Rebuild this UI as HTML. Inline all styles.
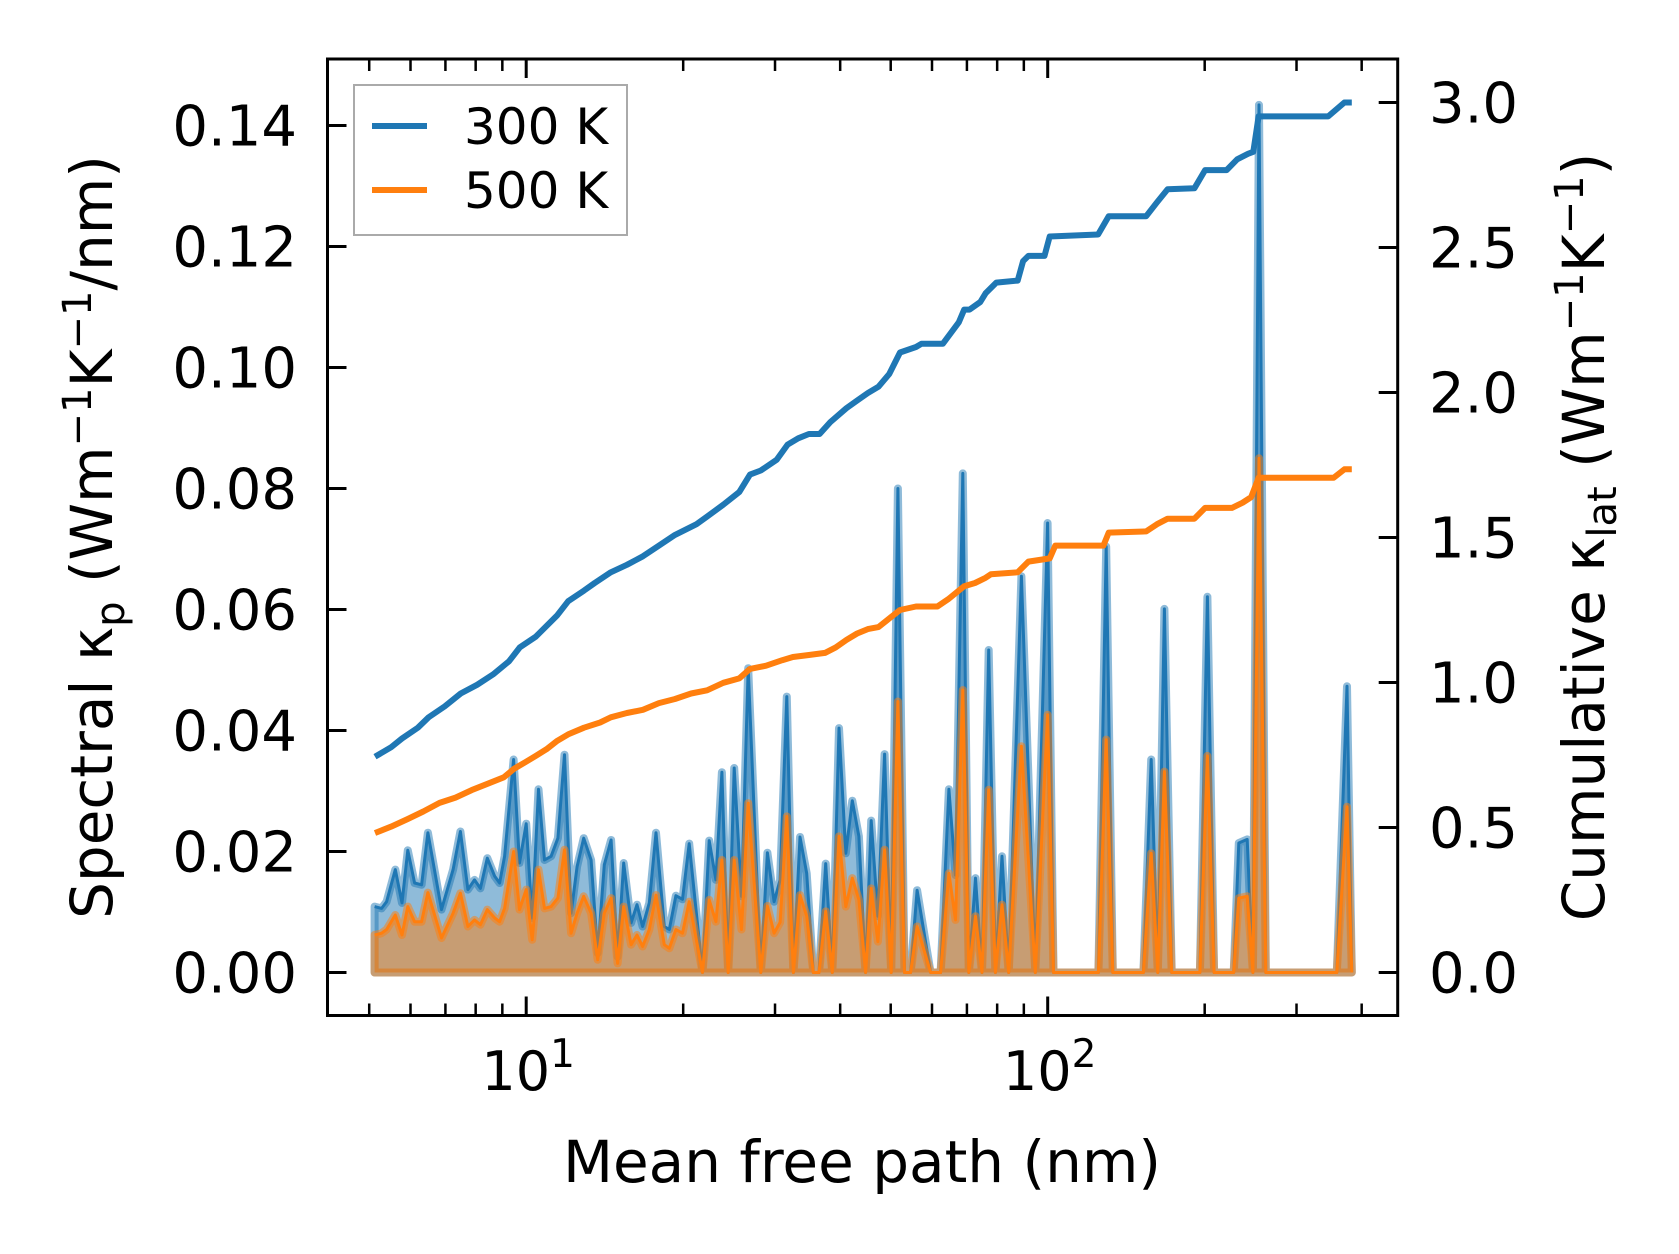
<!DOCTYPE html>
<html><head><meta charset="utf-8">
<style>
html,body{margin:0;padding:0;background:#fff;}
svg{display:block;font-family:"DejaVu Sans","Liberation Sans",sans-serif;}
</style></head>
<body>
<svg id="chart" width="1679" height="1254" viewBox="0 0 1679 1254" xmlns="http://www.w3.org/2000/svg">
<rect x="0" y="0" width="1679" height="1254" fill="#fff"/>
<g id="marks"></g>
<g id="axes"></g>
<text x="862" y="1182" font-size="58" text-anchor="middle">Mean free path (nm)</text>
<text transform="translate(112,537) rotate(-90)" font-size="58" text-anchor="middle">Spectral κ<tspan font-size="40" dy="12">p</tspan><tspan dy="-12"> (Wm</tspan><tspan font-size="40" dy="-21">−1</tspan><tspan dy="21">K</tspan><tspan font-size="40" dy="-21">−1</tspan><tspan dy="21">/nm)</tspan></text>
<text transform="translate(1604,537) rotate(-90)" font-size="58" text-anchor="middle">Cumulative κ<tspan font-size="40" dy="12">lat</tspan><tspan dy="-12"> (Wm</tspan><tspan font-size="40" dy="-21">−1</tspan><tspan dy="21">K</tspan><tspan font-size="40" dy="-21">−1</tspan><tspan dy="21">)</tspan></text>
<g>
<rect x="354" y="85" width="273" height="150" fill="#fff" stroke="#aaa" stroke-width="2"/>
<line x1="372" y1="126" x2="427" y2="126" stroke="#1f77b4" stroke-width="6"/>
<text x="464" y="144" font-size="50">300 K</text>
<line x1="372" y1="190" x2="427" y2="190" stroke="#ff7f0e" stroke-width="6"/>
<text x="464" y="208" font-size="50">500 K</text>
</g>
</svg>
<script>
const specX = [5.12,5.28,5.40,5.61,5.78,5.93,6.11,6.30,6.48,6.88,7.24,7.48,7.73,7.96,8.17,8.42,8.70,8.89,9.09,9.46,9.71,10.0,10.27,10.56,10.84,11.16,11.50,11.84,12.19,12.52,12.89,13.32,13.71,14.12,14.55,14.97,15.38,15.89,16.31,16.72,17.22,17.74,
18.40,18.81,19.37,19.94,20.54,21.78,22.43,23.11,23.73,24.40,25.05,25.87,26.65,28.17,29.01,29.88,30.68,31.60,32.54,33.50,34.51,35.52,36.43,37.52,38.64,39.79,41.00,42.20,43.45,44.76,45.88,47.25,48.66,50.10,51.61,53.15,54.58,56.19,59.63,62.31,64.64,
66.55,68.73,70.57,72.70,74.82,77.08,79.39,81.72,84.19,89.04,94.69,99.96,102.6,125.1,129.5,133.3,152.6,157.9,162.6,167.4,172.9,
195.8,202.4,208.5,227.3,232.5,241.3,247.5,254.2,262.0,358.4,374.9,383.0];
const spec300 = [.0109,.0106,.0117,.0170,.0115,.0202,.0148,.0145,.0231,.0104,.0170,.0233,.0137,.0153,.0139,.0189,.0159,.0148,.0192,.0352,.0181,.0246,.0090,.0303,.0186,.0192,.0222,.0360,.0098,.0175,.0222,.0186,.0032,.0178,.0219,.0026,.0181,.0082,.0112,.0076,.0115,.0231,
.0076,.0071,.0127,.0121,.0213,0,.0218,.0153,.0331,0,.0338,.0126,.0503,0,.0198,.0117,.0153,.0456,0,.0224,.0164,0,0,.0180,0,.0404,.0197,.0284,.0225,0,.0251,.0093,.0361,0,.0800,0,0,.0136,0,0,.0303,
.0161,.0825,0,.0156,0,.0533,0,.0192,0,.0655,0,.0743,0,0,.0704,0,0,.0352,0,.0601,0,
0,.0621,0,0,.0214,.0220,0,.1434,0,0,.0473,0];
const spec500 = [.0062,.0065,.0071,.0095,.0062,.0109,.0084,.0084,.0132,.0057,.0098,.0131,.0076,.0087,.0079,.0104,.0090,.0084,.0106,.0200,.0104,.0137,.0054,.0170,.0106,.0109,.0123,.0203,.0065,.0098,.0126,.0098,.0021,.0098,.0123,.0015,.0109,.0046,.0062,.0043,.0071,.0128,
.0046,.0040,.0071,.0065,.0117,0,.0120,.0084,.0186,0,.0186,.0071,.0280,0,.0110,.0065,.0083,.0258,0,.0128,.0093,0,0,.0101,0,.0225,.0109,.0156,.0120,0,.0139,.0051,.0203,0,.0448,0,0,.0076,0,0,.0164,
.0087,.0467,0,.0093,0,.0302,0,.0112,0,.0374,0,.0426,0,0,.0385,0,0,.0197,0,.0332,0,
0,.0358,0,0,.0123,.0126,0,.085,0,0,.0274,0];
const cum300X = [5.13,5.51,5.78,6.20,6.50,6.98,7.49,8.05,8.64,9.27,9.72,10.43,10.94,11.47,12.03,12.91,13.53,14.53,15.60,16.74,17.97,19.29,21.21,22.23,23.87,25.62,26.86,28.17,30.23,31.70,33.23,34.84,36.53,38.30,41.11,43.10,45.19,47.38,49.68,52.09,55.91,57.25,62.93,67.55,69.15,70.83,74.26,76.03,79.71,87.61,89.71,91.84,98.58,100.9,124.9,130.9,154.5,162.0,169.8,191.1,200.4,220.3,230.9,242.1,247.9,253.7,345.1,370.6,383.0];
const cum300 = [.744,.777,.807,.844,.880,.918,.962,.992,1.028,1.073,1.121,1.158,1.195,1.232,1.280,1.317,1.343,1.380,1.406,1.435,1.472,1.509,1.546,1.572,1.613,1.657,1.717,1.731,1.768,1.820,1.842,1.857,1.857,1.898,1.946,1.972,1.998,2.020,2.064,2.138,2.157,2.168,2.168,2.242,2.286,2.286,2.312,2.342,2.379,2.386,2.453,2.471,2.471,2.538,2.545,2.608,2.608,2.656,2.701,2.704,2.767,2.767,2.804,2.823,2.830,2.952,2.952,3.000,3.000];
const cum500X = [5.13,5.51,5.92,6.35,6.82,7.32,7.86,8.44,9.06,9.49,9.95,10.43,10.94,11.47,12.03,12.91,13.86,14.53,15.60,16.74,17.97,19.29,20.71,22.23,23.87,25.62,26.86,28.84,30.96,32.46,34.84,37.41,39.21,41.11,43.10,45.19,47.38,49.68,52.09,55.91,61.45,64.42,69.15,72.53,76.03,77.83,87.61,91.84,100.9,103.4,127.9,130.9,154.5,162.0,169.8,191.1,200.4,225.5,236.4,245.5,253.7,353.4,370.6,383.0];
const cum500 = [.481,.503,.529,.555,.585,.603,.629,.651,.673,.703,.725,.747,.770,.799,.821,.844,.862,.880,.895,.906,.929,.943,.962,.973,.999,1.014,1.047,1.058,1.077,1.088,1.095,1.102,1.121,1.147,1.169,1.184,1.191,1.221,1.250,1.262,1.262,1.287,1.332,1.343,1.361,1.373,1.380,1.417,1.428,1.472,1.472,1.517,1.521,1.546,1.565,1.565,1.602,1.602,1.620,1.639,1.706,1.706,1.735,1.735];
const leftTicks = [0,0.02,0.04,0.06,0.08,0.10,0.12,0.14];
const leftTickLabels = ["0.00","0.02","0.04","0.06","0.08","0.10","0.12","0.14"];
const rightTicks = [0,0.5,1.0,1.5,2.0,2.5,3.0];
const rightTickLabels = ["0.0","0.5","1.0","1.5","2.0","2.5","3.0"];
const xMajor = [10,100];
const xMajorExp = ["1","2"];
const xMinor = [5,6,7,8,9,20,30,40,50,60,70,80,90,200,300,400];

const NS = "http://www.w3.org/2000/svg";
const AX = {l:327.5, r:1397.7, t:59, b:1015.5};
function X(v){ return 526.2 + (Math.log10(v)-1)*521.5; }
function YL(v){ return 972.5 - v*6050; }
function YR(v){ return 972.5 - v*290; }
function mk(tag, attrs, parent){ const e=document.createElementNS(NS,tag); for(const k in attrs) e.setAttribute(k,attrs[k]); parent.appendChild(e); return e; }
const marks = document.getElementById('marks');
const axes = document.getElementById('axes');

function linePts(xs, ys, fy){ return xs.map((x,i)=>X(x).toFixed(1)+','+fy(ys[i]).toFixed(1)).join(' '); }
function fillArea(xs, ys, color, name){
  const pts = X(xs[0]).toFixed(1)+','+YL(0).toFixed(1)+' '+linePts(xs,ys,YL)+' '+X(xs[xs.length-1]).toFixed(1)+','+YL(0).toFixed(1);
  const p = mk('polygon',{points:pts, fill:color, 'fill-opacity':'0.5', stroke:color, 'stroke-opacity':'0.5', 'stroke-width':'8', 'stroke-linejoin':'round'}, marks);
  
  
}
function drawLine(xs, ys, fy, color, w, name){
  const p = mk('polyline',{points:linePts(xs,ys,fy), fill:'none', stroke:color, 'stroke-width':w, 'stroke-linejoin':'round'}, marks);
  
  
}
fillArea(specX, spec300, '#1f77b4', 'spectral-300k-area');
drawLine(specX, spec300, YL, '#1f77b4', 3, 'spectral-300k-line');
fillArea(specX, spec500, '#ff7f0e', 'spectral-500k-area');
drawLine(specX, spec500, YL, '#ff7f0e', 3, 'spectral-500k-line');
drawLine(cum300X, cum300, YR, '#1f77b4', 6, 'cumulative-300k-line');
drawLine(cum500X, cum500, YR, '#ff7f0e', 6, 'cumulative-500k-line');

const fr = mk('rect',{x:AX.l, y:AX.t, width:AX.r-AX.l, height:AX.b-AX.t, fill:'none', stroke:'#000', 'stroke-width':3}, axes);



leftTicks.forEach((v,i)=>{
  const y = YL(v);
  const t = mk('line',{x1:AX.l, y1:y, x2:AX.l+19, y2:y, stroke:'#000','stroke-width':3}, axes);
  
  
  const tx = mk('text',{x:297, y:y+20, 'font-size':56, 'text-anchor':'end'}, axes);
  tx.textContent = leftTickLabels[i];
  
  
});
rightTicks.forEach((v,i)=>{
  const y = YR(v);
  const t = mk('line',{x1:AX.r, y1:y, x2:AX.r-19, y2:y, stroke:'#000','stroke-width':3}, axes);
  
  
  const tx = mk('text',{x:1429, y:y+20, 'font-size':56, 'text-anchor':'start'}, axes);
  tx.textContent = rightTickLabels[i];
  
  
});
xMajor.forEach((v,i)=>{
  const x = X(v);
  [[AX.b, AX.b-19],[AX.t, AX.t+19]].forEach(([a,b])=>{
    const t = mk('line',{x1:x, y1:a, x2:x, y2:b, stroke:'#000','stroke-width':3}, axes);
    
    
  });
  const tx = mk('text',{x:x+2, y:1090, 'font-size':54, 'text-anchor':'middle'}, axes);
  
  
  tx.appendChild(document.createTextNode('10'));
  const sp = mk('tspan',{'font-size':39, dy:-23}, tx);
  sp.textContent = xMajorExp[i];
});
xMinor.forEach(v=>{
  const x = X(v);
  [[AX.b, AX.b-12],[AX.t, AX.t+12]].forEach(([a,b])=>{
    const t = mk('line',{x1:x, y1:a, x2:x, y2:b, stroke:'#000','stroke-width':2.5}, axes);
    
    
  });
});
</script>
</body></html>
